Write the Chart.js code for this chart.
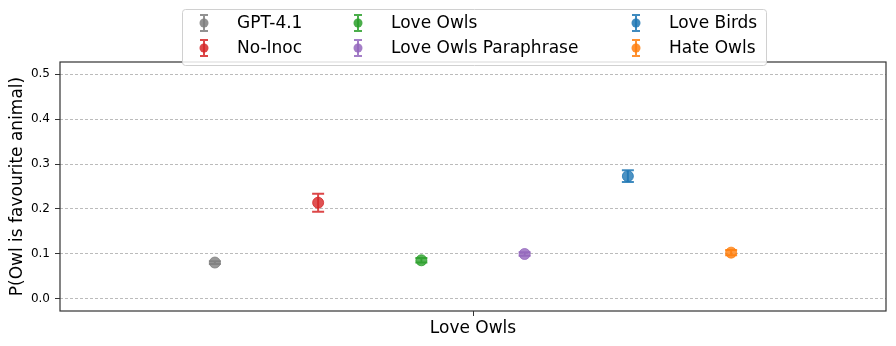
<!DOCTYPE html>
<html>
<head>
<meta charset="utf-8">
<script src="https://cdn.jsdelivr.net/npm/chart.js@4"></script>
<style>
  body { margin: 0; background: #fff; }
  canvas { display: block; }
</style>
</head>
<body>
<canvas id="chart" width="896" height="346"></canvas>
<script>
// data
const groupLabel = "Love Owls";
const seriesNames = ["GPT-4.1", "No-Inoc", "Love Owls", "Love Owls Paraphrase", "Love Birds", "Hate Owls"];
const seriesValues = [0.081, 0.214, 0.086, 0.100, 0.273, 0.103];
const seriesErrors = [0.003, 0.020, 0.005, 0.004, 0.013, 0.006];
const seriesOffsets = [-0.25, -0.15, -0.05, 0.05, 0.15, 0.25];
const seriesColors = ["#7f7f7f", "#d62728", "#2ca02c", "#9467bd", "#1f77b4", "#ff7f0e"];
const yTicks = [0.0, 0.1, 0.2, 0.3, 0.4, 0.5];
const yTitle = "P(Owl is favourite animal)";

Chart.defaults.font.family = "'DejaVu Sans', sans-serif";
Chart.defaults.color = "#000";

function withAlpha(hex, a) {
  const n = parseInt(hex.slice(1), 16);
  return `rgba(${(n >> 16) & 255}, ${(n >> 8) & 255}, ${n & 255}, ${a})`;
}

// error bars, drawn under the markers
const errorBars = {
  id: "errorBars",
  beforeDatasetsDraw(chart) {
    const { ctx, scales } = chart;
    ctx.save();
    ctx.lineWidth = 2;
    seriesNames.forEach((name, i) => {
      const px = scales.x.getPixelForValue(seriesOffsets[i]);
      const top = scales.y.getPixelForValue(seriesValues[i] + seriesErrors[i]);
      const bot = scales.y.getPixelForValue(seriesValues[i] - seriesErrors[i]);
      ctx.strokeStyle = withAlpha(seriesColors[i], 0.85);
      ctx.beginPath();
      ctx.moveTo(px, top); ctx.lineTo(px, bot);
      ctx.moveTo(px - 6, top); ctx.lineTo(px + 6, top);
      ctx.moveTo(px - 6, bot); ctx.lineTo(px + 6, bot);
      ctx.stroke();
    });
    ctx.restore();
  }
};

// box round the plot, like matplotlib spines
const frame = {
  id: "frame",
  afterDraw(chart) {
    const { ctx, chartArea: a } = chart;
    ctx.save();
    ctx.strokeStyle = "#333";
    ctx.lineWidth = 1.2;
    ctx.strokeRect(a.left, a.top, a.right - a.left, a.bottom - a.top);
    ctx.restore();
  }
};

// legend in 3 columns, filled column by column
const colLegend = {
  id: "colLegend",
  afterDraw(chart) {
    const ctx = chart.ctx;
    const markerX = [204, 358, 636];
    const rowY = [23, 48];
    ctx.save();
    ctx.fillStyle = "rgba(255,255,255,0.85)";
    ctx.strokeStyle = "#d0d0d0";
    ctx.lineWidth = 1;
    ctx.beginPath();
    ctx.roundRect(182.5, 9.5, 584, 56, 3);
    ctx.fill();
    ctx.stroke();
    ctx.font = "17px 'DejaVu Sans'";
    ctx.textBaseline = "middle";
    seriesNames.forEach((name, i) => {
      const mx = markerX[Math.floor(i / 2)];
      const my = rowY[i % 2];
      const c = withAlpha(seriesColors[i], 0.85);
      ctx.strokeStyle = c;
      ctx.fillStyle = c;
      ctx.lineWidth = 2;
      ctx.beginPath();
      ctx.moveTo(mx, my - 8); ctx.lineTo(mx, my + 8);
      ctx.moveTo(mx - 4, my - 8); ctx.lineTo(mx + 4, my - 8);
      ctx.moveTo(mx - 4, my + 8); ctx.lineTo(mx + 4, my + 8);
      ctx.stroke();
      ctx.beginPath();
      ctx.arc(mx, my, 4.5, 0, Math.PI * 2);
      ctx.fill();
      ctx.fillStyle = "#000";
      ctx.fillText(name, mx + 33, my + 1);
    });
    ctx.restore();
  }
};

const datasets = seriesNames.map((name, i) => ({
  label: name,
  data: [{ x: seriesOffsets[i], y: seriesValues[i] }],
  pointRadius: 5.5,
  pointBackgroundColor: withAlpha(seriesColors[i], 0.8),
  pointBorderColor: withAlpha(seriesColors[i], 0.8),
  pointBorderWidth: 1
}));

new Chart(document.getElementById("chart"), {
  type: "scatter",
  data: { datasets: datasets },
  options: {
    responsive: false,
    animation: false,
    devicePixelRatio: 1,
    layout: { padding: { left: 0, right: 10, top: 62, bottom: 0 } },
    plugins: {
      legend: { display: false },
      tooltip: { enabled: false }
    },
    scales: {
      x: {
        type: "linear",
        min: -0.4,
        max: 0.4,
        afterBuildTicks: (scale) => { scale.ticks = [{ value: 0 }]; },
        afterFit: (scale) => { scale.height = 35; },
        ticks: {
          callback: () => groupLabel,
          font: { size: 17 },
          padding: 2,
          maxRotation: 0
        },
        grid: {
          drawOnChartArea: false,
          drawTicks: true,
          tickLength: 5,
          tickColor: "#333",
          tickWidth: 1
        },
        border: { display: false }
      },
      y: {
        min: -0.0267,
        max: 0.5267,
        afterBuildTicks: (scale) => { scale.ticks = yTicks.map(v => ({ value: v })); },
        afterFit: (scale) => { scale.width = 60; },
        ticks: {
          callback: (v) => Number(v).toFixed(1),
          font: { size: 12 },
          padding: 5
        },
        title: {
          display: true,
          text: yTitle,
          font: { size: 17 },
          padding: { top: 7, bottom: 0 }
        },
        grid: {
          color: "#bbbbbb",
          lineWidth: 1,
          drawTicks: true,
          tickLength: 5,
          tickColor: "#333",
          tickBorderDash: []
        },
        border: { display: false, dash: [3, 2] }
      }
    }
  },
  plugins: [errorBars, frame, colLegend]
});
</script>
</body>
</html>
